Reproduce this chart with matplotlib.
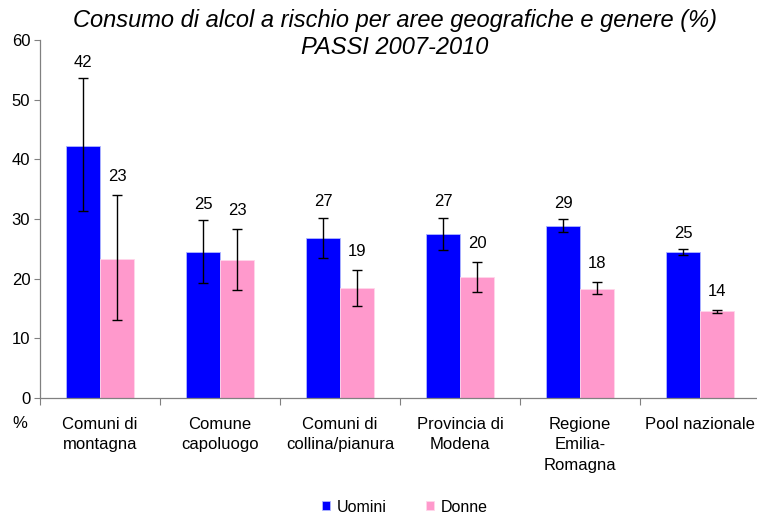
import matplotlib
matplotlib.use('Agg')
import matplotlib.pyplot as plt
import numpy as np

plt.rcParams['font.family'] = ['Liberation Sans', 'DejaVu Sans']

categories = ['Comuni di\nmontagna', 'Comune\ncapoluogo', 'Comuni di\ncollina/pianura',
              'Provincia di\nModena', 'Regione\nEmilia-\nRomagna', 'Pool nazionale']
uomini = [42.3, 24.4, 26.8, 27.5, 28.8, 24.4]
uomini_lo = [31.4, 19.2, 23.4, 24.8, 27.8, 24.0]
uomini_hi = [53.6, 29.8, 30.2, 30.2, 30.0, 24.9]
donne = [23.3, 23.1, 18.5, 20.2, 18.2, 14.5]
donne_lo = [13.0, 18.1, 15.4, 17.7, 17.4, 14.2]
donne_hi = [34.0, 28.3, 21.5, 22.8, 19.5, 14.8]
labels_u = ['42', '25', '27', '27', '29', '25']
labels_d = ['23', '23', '19', '20', '18', '14']

fig = plt.figure(figsize=(7.57, 5.16), dpi=100)
ax = fig.add_axes([40 / 757, 118 / 516, 720 / 757, 358 / 516])

x = np.arange(len(categories))
w = 0.283
u = np.array(uomini)
d = np.array(donne)
ax.bar(x - w / 2, u, w, color='#0000ff', edgecolor='#b0b8ff', linewidth=0.6, zorder=2, label='Uomini')
ax.bar(x + w / 2, d, w, color='#ff99cc', edgecolor='#ffd6ea', linewidth=0.6, zorder=2, label='Donne')
ax.errorbar(x - w / 2, u, yerr=[u - np.array(uomini_lo), np.array(uomini_hi) - u],
            fmt='none', ecolor='black', elinewidth=1, capsize=3.8, capthick=1, zorder=3)
ax.errorbar(x + w / 2, d, yerr=[d - np.array(donne_lo), np.array(donne_hi) - d],
            fmt='none', ecolor='black', elinewidth=1, capsize=3.8, capthick=1, zorder=3)

for xi, top, lab in zip(x - w / 2, uomini_hi, labels_u):
    ax.annotate(lab, (xi, top), xytext=(0, 6), textcoords='offset points',
                ha='center', va='bottom', fontsize=12)
for xi, top, lab in zip(x + w / 2, donne_hi, labels_d):
    ax.annotate(lab, (xi, top), xytext=(0, 8), textcoords='offset points',
                ha='center', va='bottom', fontsize=12)

ax.set_xlim(-0.5, len(categories) - 0.5)
ax.set_ylim(0, 60)
ax.set_yticks(range(0, 61, 10))
ax.tick_params(axis='y', labelsize=12, length=4, width=0.8, color='#808080', pad=3)

ax.set_xticks(x)
ax.set_xticklabels(categories, fontsize=12, linespacing=1.42)
ax.tick_params(axis='x', length=0, pad=14)
ax.set_xticks(np.arange(-0.5, len(categories), 1), minor=True)
ax.tick_params(axis='x', which='minor', length=5, width=0.8, color='#808080')

for s in ['top', 'right']:
    ax.spines[s].set_visible(False)
for s in ['left', 'bottom']:
    ax.spines[s].set_color('#808080')
    ax.spines[s].set_linewidth(0.9)

fig.text(20 / 757, 1 - 424 / 516, '%', fontsize=12, ha='center', va='center')
fig.text(395 / 757, 1 - 20 / 516, 'Consumo di alcol a rischio per aree geografiche e genere (%)',
         fontsize=17, style='italic', ha='center', va='center')
fig.text(395 / 757, 1 - 48 / 516, 'PASSI 2007-2010',
         fontsize=17, style='italic', ha='center', va='center')

fig.legend(loc='center', bbox_to_anchor=(405 / 757, 1 - 507 / 516), ncol=2, frameon=False,
           fontsize=11.5, handlelength=0.5, handleheight=0.5, handletextpad=0.4,
           columnspacing=2.5)

fig.savefig('out.png', dpi=100, facecolor='white')
